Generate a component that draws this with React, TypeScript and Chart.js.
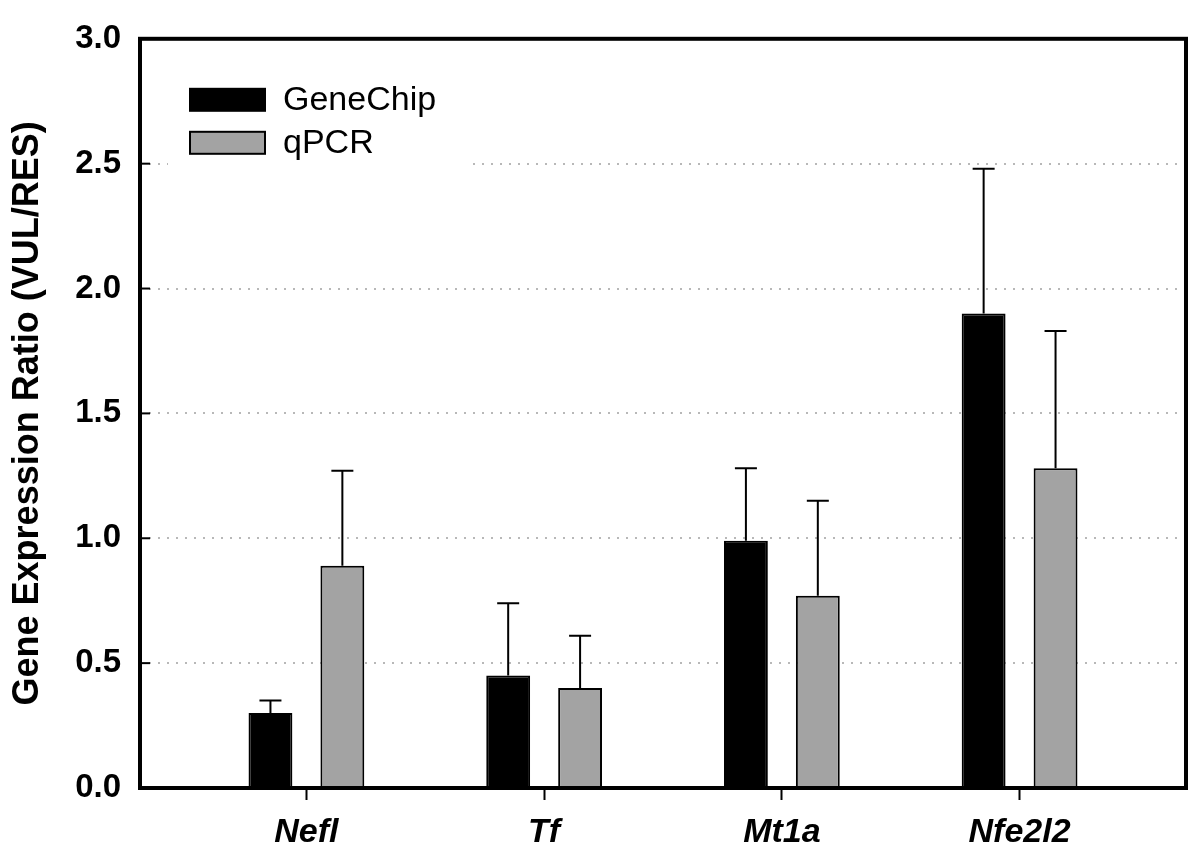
import React, { useEffect, useRef } from "react";
import { Chart, registerables } from "chart.js";

Chart.register(...registerables);

const categories = ["Nefl", "Tf", "Mt1a", "Nfe2l2"];
const geneChipValues = [0.3, 0.45, 0.99, 1.9];
const geneChipErrors = [0.05, 0.29, 0.29, 0.58];
const qpcrValues = [0.89, 0.4, 0.77, 1.28];
const qpcrErrors = [0.38, 0.21, 0.38, 0.55];
const yTickValues = [0, 0.5, 1.0, 1.5, 2.0, 2.5, 3.0];
const seriesNames = ["GeneChip", "qPCR"];
const yTitle = "Gene Expression Ratio (VUL/RES)";

const FONT = "'Liberation Sans', Arial, Helvetica, sans-serif";

const errorBarPlugin = {
  id: "errorBars",
  afterDatasetsDraw(chart: any) {
    const ctx = chart.ctx;
    const yScale = chart.scales.y;
    chart.data.datasets.forEach((ds: any, di: number) => {
      const meta = chart.getDatasetMeta(di);
      const errs: number[] = ds.errors || [];
      meta.data.forEach((el: any, i: number) => {
        const v = ds.data[i].y;
        const top = yScale.getPixelForValue(v + errs[i]);
        const x = el.x;
        const base = el.y;
        ctx.save();
        ctx.strokeStyle = "#000";
        ctx.lineWidth = 2;
        ctx.beginPath();
        ctx.moveTo(x, base);
        ctx.lineTo(x, top);
        ctx.moveTo(x - 11, top);
        ctx.lineTo(x + 11, top);
        ctx.stroke();
        ctx.restore();
      });
    });
  },
};

const legendPlugin = {
  id: "customLegend",
  afterDatasetsDraw(chart: any) {
    const ctx = chart.ctx;
    const area = chart.chartArea;
    const x0 = area.left + 50;
    const y0 = area.top + 50;
    ctx.save();
    ctx.fillStyle = "#fff";
    ctx.fillRect(area.left + 28, area.top + 30, 300, 104);
    chart.data.datasets.forEach((ds: any, i: number) => {
      const y = y0 + i * 43;
      ctx.fillStyle = ds.backgroundColor;
      ctx.fillRect(x0, y, 75, 22);
      ctx.strokeStyle = "#000";
      ctx.lineWidth = 2;
      ctx.strokeRect(x0, y, 75, 22);
      ctx.fillStyle = "#000";
      ctx.font = `34px ${FONT}`;
      ctx.textBaseline = "middle";
      ctx.textAlign = "left";
      ctx.fillText(ds.label, x0 + 93, y + 12);
    });
    ctx.restore();
  },
};

const framePlugin = {
  id: "frame",
  afterDraw(chart: any) {
    const ctx = chart.ctx;
    const a = chart.chartArea;
    const yScale = chart.scales.y;
    ctx.save();
    ctx.strokeStyle = "#000";
    ctx.lineWidth = 2;
    yScale.ticks.forEach((t: any) => {
      const y = yScale.getPixelForValue(t.value);
      ctx.beginPath();
      ctx.moveTo(a.left, y);
      ctx.lineTo(a.left + 10, y);
      ctx.stroke();
    });
    ctx.lineWidth = 4;
    ctx.strokeRect(a.left, a.top, a.right - a.left, a.bottom - a.top);
    ctx.restore();
  },
};

export default function App() {
  const ref = useRef<HTMLCanvasElement | null>(null);
  useEffect(() => {
    if (!ref.current) return;
    const chart = new Chart(ref.current, {
      type: "bar",
      data: {
        datasets: [
          {
            label: seriesNames[0],
            data: geneChipValues.map((v, i) => ({ x: i + 1, y: v })),
            errors: geneChipErrors,
            backgroundColor: "#000000",
            borderColor: "#000000",
            borderWidth: 2,
          } as any,
          {
            label: seriesNames[1],
            data: qpcrValues.map((v, i) => ({ x: i + 1, y: v })),
            errors: qpcrErrors,
            backgroundColor: "#a3a3a3",
            borderColor: "#000000",
            borderWidth: 2,
          } as any,
        ],
      },
      options: {
        responsive: false,
        animation: false,
        layout: { padding: { left: 0, top: 35, right: 14, bottom: 0 } },
        plugins: { legend: { display: false }, tooltip: { enabled: false } },
        datasets: { bar: { categoryPercentage: 0.605, barPercentage: 0.61 } },
        scales: {
          x: {
            type: "linear",
            min: 0.3,
            max: 4.7,
            offset: false,
            afterBuildTicks: (scale: any) => {
              scale.ticks = categories.map((_, i) => ({ value: i + 1 }));
            },
            afterFit: (scale: any) => {
              scale.height = 72;
            },
            grid: {
              offset: false,
              drawOnChartArea: false,
              drawTicks: true,
              tickLength: 12,
              tickColor: "#000",
              tickWidth: 2,
              color: "#000",
            },
            border: { display: false },
            ticks: {
              padding: 12,
              color: "#000",
              font: { family: FONT, size: 34, weight: "bold", style: "italic" },
              callback: (v: any) => categories[Math.round(Number(v)) - 1] ?? "",
              maxRotation: 0,
              autoSkip: false,
            },
          },
          y: {
            min: 0,
            max: 3,
            afterBuildTicks: (scale: any) => {
              scale.ticks = yTickValues.map((v) => ({ value: v }));
            },
            afterFit: (scale: any) => {
              scale.width = 140;
            },
            grid: {
              drawTicks: false,
              lineWidth: 2,
              color: (c: any) =>
                c.tick && c.tick.value > 0 && c.tick.value < 3 ? "#b8b8b8" : "rgba(0,0,0,0)",
            },
            border: { display: false, dash: [2, 7] },
            ticks: {
              padding: 19,
              color: "#000",
              font: { family: FONT, size: 33, weight: "bold" },
              callback: (v: any) => Number(v).toFixed(1),
            },
            title: {
              display: true,
              text: yTitle,
              color: "#000",
              font: { family: FONT, size: 36, weight: "bold" },
              padding: { top: 6, bottom: 0 },
            },
          },
        },
      } as any,
      plugins: [errorBarPlugin, legendPlugin, framePlugin],
    });
    return () => chart.destroy();
  }, []);
  return (
    <div style={{ position: "absolute", left: 0, top: 0, width: 1200, height: 860, background: "#fff" }}>
      <canvas ref={ref} width={1200} height={860} style={{ display: "block" }} />
    </div>
  );
}
